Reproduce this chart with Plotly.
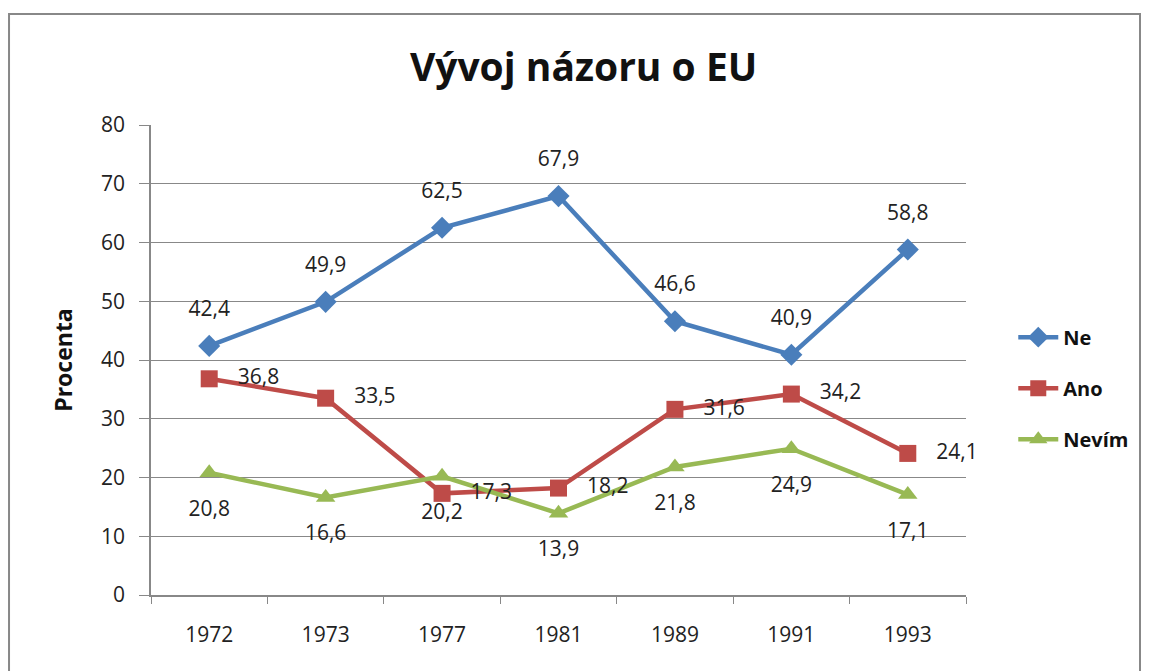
import plotly.graph_objects as go

years = ["1972", "1973", "1977", "1981", "1989", "1991", "1993"]
ne = [42.4, 49.9, 62.5, 67.9, 46.6, 40.9, 58.8]
ano = [36.8, 33.5, 17.3, 18.2, 31.6, 34.2, 24.1]
nevim = [20.8, 16.6, 20.2, 13.9, 21.8, 24.9, 17.1]

font = "Open Sans"
lab = dict(size=21, color="#222", family=font)
series = [
    ("Ne", ne, "#4A7EBB", "diamond", 17, "top center", 38),
    ("Ano", ano, "#BE4B48", "square", 17, "middle right", 44),
    ("Nevím", nevim, "#98B954", "triangle-up", 17, "bottom center", 42),
]
fig = go.Figure()
for name, vals, col, sym, ms, pos, pad in series:
    fig.add_trace(go.Scatter(x=years, y=vals, name="<b>%s</b>" % name, legendgroup=name,
                             mode="lines+markers", line=dict(color=col, width=4.5),
                             marker=dict(symbol=sym, size=ms, color=col), hoverinfo="skip"))
for name, vals, col, sym, ms, pos, pad in series:
    fig.add_trace(go.Scatter(x=years, y=vals, mode="markers+text", showlegend=False,
                             marker=dict(size=pad, opacity=0), texttemplate="%{y:.1f}",
                             textposition=pos, textfont=lab, cliponaxis=False, hoverinfo="skip"))

fig.update_layout(
    width=1151, height=671,
    margin=dict(l=151, r=185, t=125, b=76),
    paper_bgcolor="white", plot_bgcolor="white",
    separators=", ",
    font=dict(family=font, size=19, color="#222"),
    title=dict(text="<b>Vývoj názoru o EU</b>", x=0.507, xanchor="center", y=0.9, yanchor="middle",
               font=dict(size=39, color="#111", family=font)),
    showlegend=True,
    legend=dict(x=1.058, y=0.44, xanchor="left", yanchor="middle",
                font=dict(size=20, family=font, color="#111"),
                traceorder="grouped", itemwidth=40, tracegroupgap=22, bgcolor="rgba(0,0,0,0)"),
    xaxis=dict(type="category", range=[-0.5, 6.5], showgrid=False, showline=True, linecolor="#888",
               linewidth=1.5, ticks="outside", tickson="boundaries", ticklen=7, tickcolor="#888",
               ticklabelstandoff=20, tickfont=dict(size=21, color="#222")),
    yaxis=dict(range=[0, 80], dtick=10, showgrid=True, gridcolor="#888", gridwidth=1,
               showline=True, linecolor="#888", linewidth=1.5, ticks="outside", ticklen=10,
               ticklabelstandoff=10,
               tickcolor="#888", zeroline=False, tickfont=dict(size=21, color="#222"),
               title=dict(text="<b>Procenta</b>", font=dict(size=23, color="#111"), standoff=22)),
    shapes=[dict(type="rect", xref="paper", yref="paper", x0=-0.1742, x1=1.2135, y0=-0.25, y1=1.236,
                 line=dict(color="#888", width=2), fillcolor="rgba(0,0,0,0)", layer="below")],
)
fig.write_html("out.html")
